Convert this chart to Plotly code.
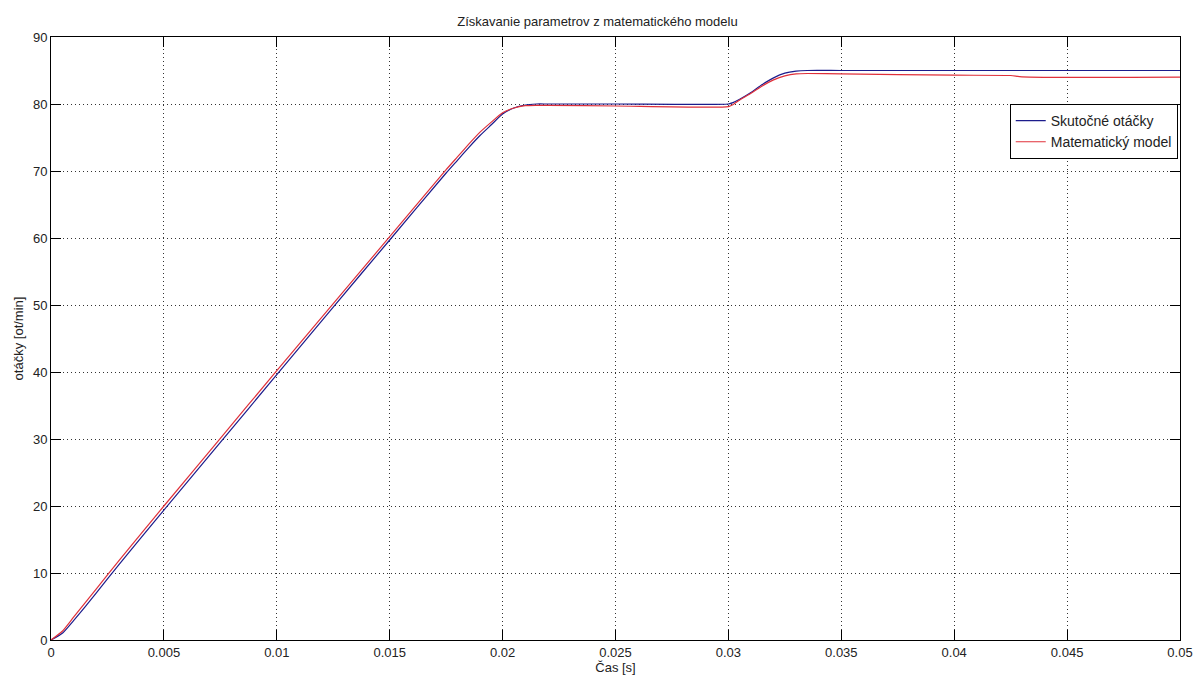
import plotly.graph_objects as go

# Time axis [s]
t_real = [0, 0.0005, 0.001, 0.0015, 0.002, 0.003, 0.004, 0.005, 0.0075, 0.01, 0.0125,
          0.015, 0.0175, 0.018, 0.0185, 0.019, 0.0195, 0.02, 0.0205, 0.021, 0.0215,
          0.022, 0.025, 0.030, 0.0302, 0.0305, 0.031, 0.0315, 0.032, 0.0325, 0.033,
          0.0335, 0.035, 0.04, 0.045, 0.05]
# Skutočné otáčky [ot/min]
speed_real = [0, 1.0, 2.9, 4.9, 7.0, 11.2, 15.3, 19.4, 29.5, 39.6, 49.7,
              59.7, 69.7, 71.6, 73.5, 75.3, 76.9, 78.5, 79.4, 79.85, 80.0,
              80.0, 80.0, 80.0, 80.2, 80.7, 81.7, 82.9, 83.9, 84.6, 84.9,
              85.0, 85.0, 85.0, 85.0, 85.0]

t_model = [0, 0.0005, 0.001, 0.0015, 0.002, 0.003, 0.004, 0.005, 0.0075, 0.01, 0.0125,
           0.015, 0.0175, 0.018, 0.0185, 0.019, 0.0195, 0.02, 0.0205, 0.021, 0.0215,
           0.022, 0.025, 0.030, 0.0302, 0.0305, 0.031, 0.0315, 0.032, 0.0325, 0.033,
           0.0335, 0.035, 0.04, 0.0425, 0.043, 0.05]
# Matematický model [ot/min]
speed_model = [0, 1.3, 3.4, 5.5, 7.6, 11.8, 15.9, 20.0, 30.1, 40.2, 50.2,
               60.2, 70.2, 72.1, 74.0, 75.8, 77.3, 78.7, 79.4, 79.75, 79.8,
               79.8, 79.7, 79.6, 79.9, 80.6, 81.6, 82.7, 83.6, 84.2, 84.5,
               84.55, 84.5, 84.3, 84.25, 84.05, 84.0]

x_ticks = [0, 0.005, 0.01, 0.015, 0.02, 0.025, 0.03, 0.035, 0.04, 0.045, 0.05]
x_labels = ["0", "0.005", "0.01", "0.015", "0.02", "0.025", "0.03", "0.035", "0.04", "0.045", "0.05"]
y_ticks = [0, 10, 20, 30, 40, 50, 60, 70, 80, 90]

fig = go.Figure()
fig.add_trace(go.Scatter(x=t_real, y=speed_real, mode="lines", name="Skutočné otáčky",
                         line=dict(color="#1c1c8c", width=1.2, shape="spline", smoothing=0.6)))
fig.add_trace(go.Scatter(x=t_model, y=speed_model, mode="lines", name="Matematický model",
                         line=dict(color="#e0303a", width=1.2, shape="spline", smoothing=0.6)))

font_family = "Liberation Sans, Arial, sans-serif"
axis_common = dict(showline=True, linecolor="black", linewidth=1, mirror="ticks",
                   ticks="inside", ticklen=10, tickcolor="black", tickwidth=1,
                   showgrid=True, gridcolor="#333", griddash="1px,3px", gridwidth=1,
                   zeroline=False, automargin=False,
                   tickfont=dict(size=13, color="#222", family=font_family))

fig.update_xaxes(range=[0, 0.05], tickvals=x_ticks, ticktext=x_labels,
                 title=dict(text="Čas [s]", font=dict(size=13, color="#222", family=font_family), standoff=2),
                 **axis_common)
fig.update_yaxes(range=[0, 90], tickvals=y_ticks,
                 title=dict(text="otáčky [ot/min]", font=dict(size=13, color="#222", family=font_family), standoff=6),
                 **axis_common)

fig.update_layout(
    width=1195, height=677,
    paper_bgcolor="white", plot_bgcolor="white",
    margin=dict(l=51, r=15, t=37, b=37, autoexpand=False),
    title=dict(text="Získavanie parametrov z matematického modelu", x=0.5, xanchor="center",
               y=1 - 21 / 677, yanchor="middle", automargin=False,
               font=dict(size=13, color="#222", family=font_family)),
    legend=dict(x=0.998, y=0.889, xanchor="right", yanchor="top", bgcolor="white",
                bordercolor="black", borderwidth=1, font=dict(size=14, color="#222", family=font_family),
                tracegroupgap=0),
    showlegend=True,
)

fig.write_html("out.html", config={"displayModeBar": False},
               post_script="document.body.style.margin='0px';document.body.style.overflow='hidden';")
